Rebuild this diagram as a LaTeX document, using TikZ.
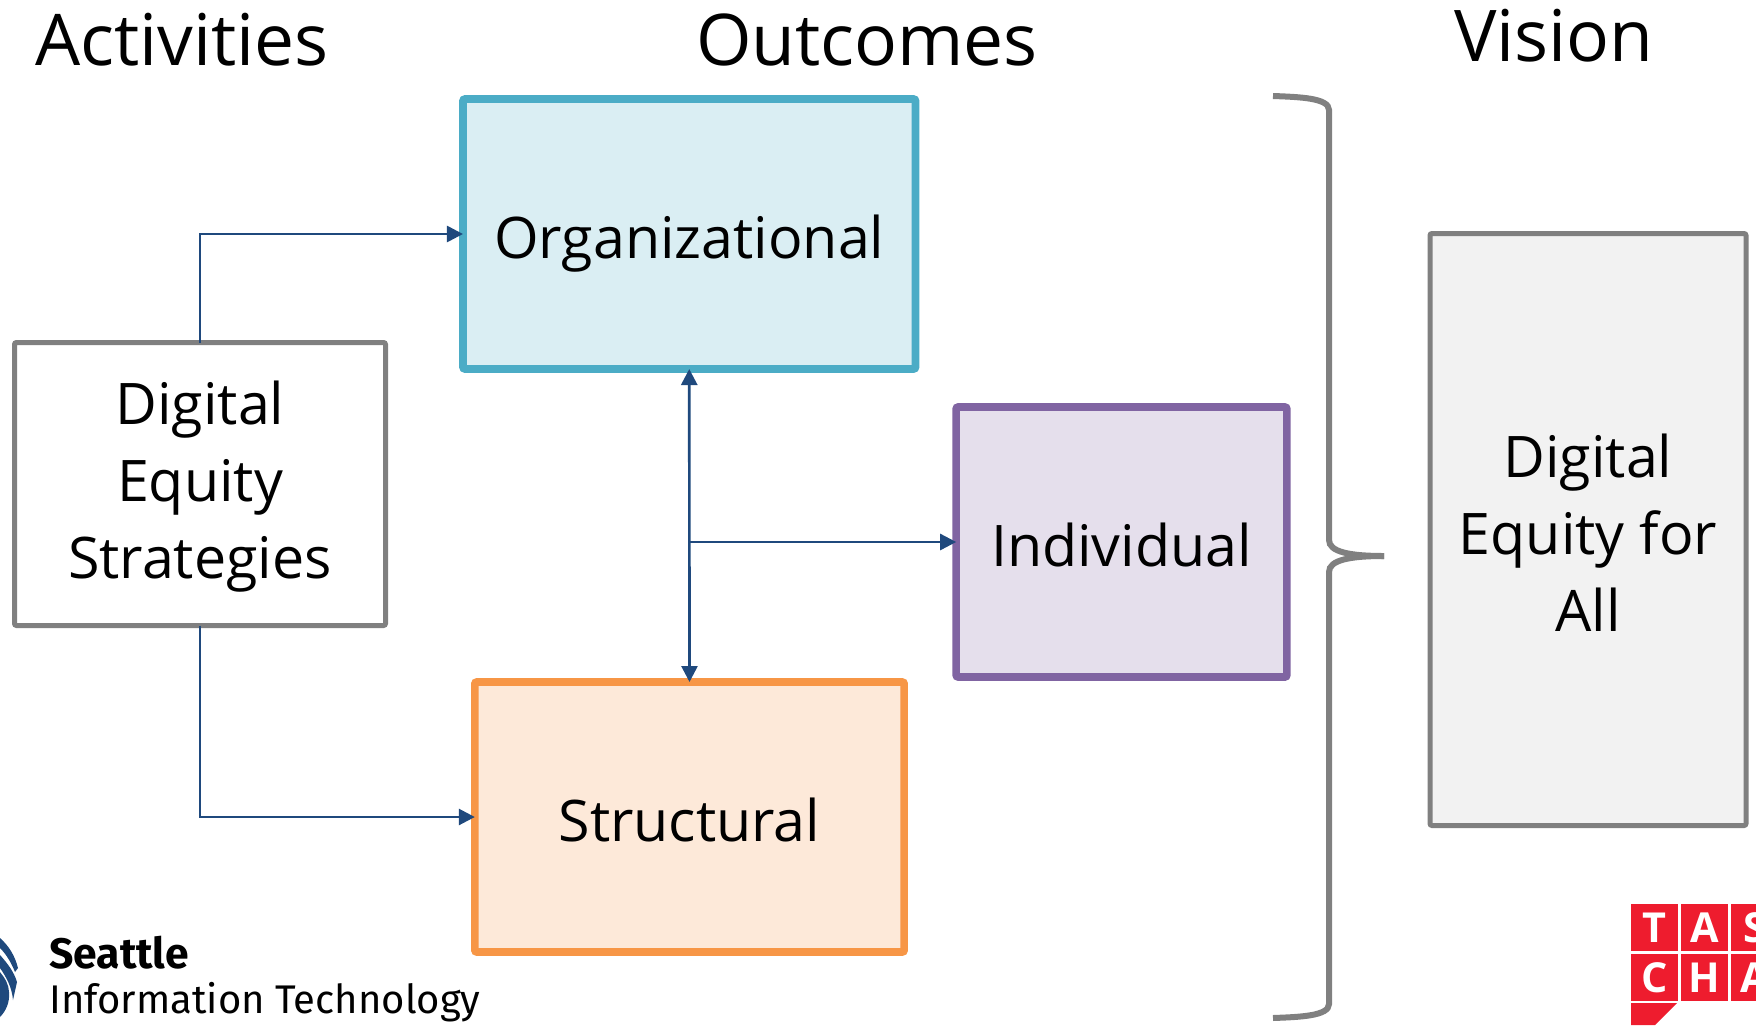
\documentclass[tikz,border=0pt]{standalone}
\usepackage{fontspec}
\setmainfont{Open Sans}
\newfontfamily\logofont{Fira Sans}
\usepackage{tikz}
\usetikzlibrary{arrows.meta,calc}
\definecolor{flowblue}{HTML}{1F497D}
\definecolor{boxgray}{HTML}{808080}
\definecolor{orgline}{HTML}{4BACC6}
\definecolor{orgfill}{HTML}{DAEEF3}
\definecolor{indline}{HTML}{8064A2}
\definecolor{indfill}{HTML}{E5DFEC}
\definecolor{strline}{HTML}{F79646}
\definecolor{strfill}{HTML}{FDE9D9}
\definecolor{logored}{HTML}{EE1C2E}
\tikzset{
  box/.style={draw,rounded corners=1.5pt,outer sep=0pt,inner sep=0pt,align=center,line width=5.7pt,font=\fontsize{43}{57.75}\selectfont},
  onebox/.style={box,text height=36.5pt,text depth=0pt},
  graybox/.style={box,draw=boxgray,line width=3.75pt},
  title/.style={inner sep=0pt,font=\fontsize{53.5}{60}\selectfont},
  flow/.style={draw=flowblue,line width=2pt,-{Triangle[length=12pt,width=12pt]}},
  cell/.style={fill=logored,text=white,inner sep=0pt,minimum width=35.5pt,minimum height=35.5pt,font=\fontsize{31}{31}\bfseries\selectfont},
}
\begin{document}
\begin{tikzpicture}[x=0.75pt,y=0.75pt,yscale=-1,xscale=1]
\clip (0,0) rectangle (1756,1025);

% Titles
\node (activities) [title] at (182,40) {Activities};
\node (outcomes) [title] at (867,40) {Outcomes};
\node (vision) [title] at (1554,36) {Vision};

% Boxes
\node (digital) [graybox,fill=white,text depth=6pt,minimum width=278.25pt,minimum height=212.25pt] at (200,484) {Digital\\Equity\\Strategies};
\node (org) [onebox,draw=orgline,fill=orgfill,minimum width=339.4pt,minimum height=202.5pt] at (689.25,234) {Organizational};
\node (indiv) [onebox,draw=indline,fill=indfill,minimum width=248pt,minimum height=202.5pt] at (1121.5,542) {Individual};
\node (struct) [onebox,draw=strline,fill=strfill,minimum width=322pt,minimum height=202.5pt] at (689.5,817) {Structural};
\node (all) [graybox,fill=black!5,minimum width=237pt,minimum height=444pt] at (1588,529.5) {\rule{0pt}{38pt}Digital\\Equity for\\All};

% Arrows
\draw [flow] (digital.north) |- (org.west);
\draw [flow] (digital.south) |- (struct.west);
\draw [flow,{Triangle[length=12pt,width=12pt]}-{Triangle[length=12pt,width=12pt]}] (org.south) -- (struct.north);
\coordinate (branch) at (indiv.west -| org.south);
\draw [flow] (branch) -- (indiv.west);

% Brace
\draw [boxgray,line width=4.5pt] (1273,96) .. controls (1300,97) and (1329,98) .. (1329,110) -- (1329,540) .. controls (1329,552) and (1350,556) .. (1384,556);
\draw [boxgray,line width=4.5pt] (1273,1018) .. controls (1300,1017) and (1329,1016) .. (1329,1004) -- (1329,572) .. controls (1329,560) and (1350,556) .. (1384,556);

% Seattle logo
\fill [flowblue] (0,938) .. controls (9,946) and (15,956) .. (18,968) -- (15,972) .. controls (11,962) and (6,954) .. (0,948) -- cycle;
\fill [flowblue] (0,955) .. controls (8,964) and (14,972) .. (17,982) -- (13,1000) .. controls (12,988) and (7,978) .. (0,968) -- cycle;
\fill [flowblue] (0,972) .. controls (5,978) and (9,985) .. (9,992) .. controls (10,1002) and (6,1011) .. (0,1017) -- cycle;
\node (seattle) [anchor=west,inner sep=0pt,font=\logofont\fontsize{32}{32}\bfseries\selectfont] at (49,953) {Seattle};
\node (infotech) [anchor=west,inner sep=0pt,font=\logofont\fontsize{30}{30}\selectfont] at (49,1002) {Information Technology};

% TASCHA logo
\node (t) [cell] at (1654.5,927.5) {T};
\node (a) [cell] at (1704.5,927.5) {A};
\node (s) [cell] at (1754.5,927.5) {S};
\node (c) [cell] at (1654.5,977.5) {C};
\node (h) [cell] at (1704.5,977.5) {H};
\node (a2) [cell] at (1754.5,977.5) {A};
\fill [logored] (1631,1003) -- (1677,1003) -- (1655,1025) -- (1631,1025) -- cycle;
\end{tikzpicture}
\end{document}
